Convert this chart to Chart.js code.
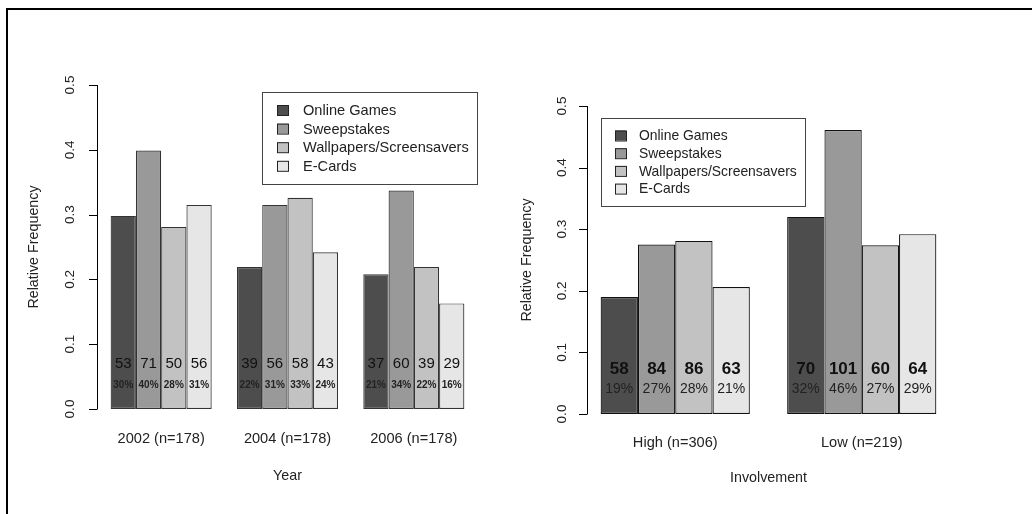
<!DOCTYPE html>
<html>
<head>
<meta charset="utf-8">
<script src="https://cdn.jsdelivr.net/npm/chart.js@4.4.1/dist/chart.umd.min.js"></script>
<style>
body { margin: 0; background: #fff; }
#wrap { position: relative; width: 1032px; height: 514px; overflow: hidden; }
#frame { position: absolute; left: 6px; top: 8px; width: 1040px; height: 520px; border-top: 2px solid #000; border-left: 2px solid #000; }
canvas { position: absolute; left: 0; top: 0; }
</style>
</head>
<body>
<div id="wrap">
  <div id="frame"></div>
  <canvas id="yearChart" width="1032" height="514"></canvas>
  <canvas id="involveChart" width="1032" height="514"></canvas>
</div>
<script>
// series shared by both panels
const seriesNames = ['Online Games', 'Sweepstakes', 'Wallpapers/Screensavers', 'E-Cards'];
const seriesColors = ['#4d4d4d', '#999999', '#c2c2c2', '#e6e6e6'];
const yTicks = [0, 0.1, 0.2, 0.3, 0.4, 0.5];
const yTickLabels = ['0.0', '0.1', '0.2', '0.3', '0.4', '0.5'];

// left panel: by year
const yearLabels = ['2002 (n=178)', '2004 (n=178)', '2006 (n=178)'];
const yearOnline = [0.298, 0.219, 0.208];
const yearSweep = [0.399, 0.315, 0.337];
const yearWall = [0.281, 0.326, 0.219];
const yearCards = [0.315, 0.242, 0.163];
const yearOnlineN = [53, 39, 37];
const yearSweepN = [71, 56, 60];
const yearWallN = [50, 58, 39];
const yearCardsN = [56, 43, 29];
const yearOnlinePct = ['30%', '22%', '21%'];
const yearSweepPct = ['40%', '31%', '34%'];
const yearWallPct = ['28%', '33%', '22%'];
const yearCardsPct = ['31%', '24%', '16%'];

// right panel: by involvement
const invLabels = ['High (n=306)', 'Low (n=219)'];
const invOnline = [0.190, 0.320];
const invSweep = [0.275, 0.461];
const invWall = [0.281, 0.274];
const invCards = [0.206, 0.292];
const invOnlineN = [58, 70];
const invSweepN = [84, 101];
const invWallN = [86, 60];
const invCardsN = [63, 64];
const invOnlinePct = ['19%', '32%'];
const invSweepPct = ['27%', '46%'];
const invWallPct = ['28%', '27%'];
const invCardsPct = ['21%', '29%'];

const FONT = "'Liberation Sans', Arial, sans-serif";

// draws the R-style axis, labels inside bars and the legend box
const rDeco = {
    id: 'rdeco',
    afterDatasetsDraw(chart, args, o) {
        const ctx = chart.ctx;
        const ys = chart.scales.y;
        const xs = chart.scales.x;
        const area = chart.chartArea;
        ctx.save();

        // y axis
        const ax = area.left + o.axisShift;
        ctx.strokeStyle = '#000';
        ctx.lineWidth = 1;
        ctx.beginPath();
        ctx.moveTo(ax + 0.5, ys.getPixelForValue(0));
        ctx.lineTo(ax + 0.5, ys.getPixelForValue(0.5));
        yTicks.forEach(v => {
            const py = Math.round(ys.getPixelForValue(v)) + 0.5;
            ctx.moveTo(ax + 0.5, py);
            ctx.lineTo(ax - 8, py);
        });
        ctx.stroke();

        ctx.fillStyle = '#222';
        ctx.font = '13.5px ' + FONT;
        ctx.textAlign = 'center';
        ctx.textBaseline = 'middle';
        yTicks.forEach((v, i) => {
            ctx.save();
            ctx.translate(o.tickLabelX, ys.getPixelForValue(v));
            ctx.rotate(-Math.PI / 2);
            ctx.fillText(yTickLabels[i], 0, 0);
            ctx.restore();
        });

        ctx.font = '14.3px ' + FONT;
        ctx.save();
        ctx.translate(o.yTitleX, (ys.getPixelForValue(0) + ys.getPixelForValue(0.5)) / 2);
        ctx.rotate(-Math.PI / 2);
        ctx.fillText('Relative Frequency', 0, 0);
        ctx.restore();

        // category labels and x title
        ctx.font = '14.6px ' + FONT;
        chart.data.labels.forEach((lab, i) => {
            ctx.fillText(lab, xs.getPixelForValue(i), o.catY);
        });
        ctx.font = '14.3px ' + FONT;
        ctx.fillText(o.xTitle, (area.left + area.right) / 2, o.xTitleY);

        // counts and percentages inside bars
        chart.data.datasets.forEach((ds, di) => {
            chart.getDatasetMeta(di).data.forEach((bar, i) => {
                ctx.fillStyle = '#111';
                ctx.font = o.countFont;
                ctx.fillText(String(ds.counts[i]), bar.x, ys.getPixelForValue(o.countAt));
                ctx.fillStyle = '#222';
                ctx.font = o.pctFont;
                ctx.fillText(ds.pcts[i], bar.x, ys.getPixelForValue(o.pctAt));
            });
        });

        // legend
        const lg = o.legend;
        ctx.strokeStyle = '#444';
        ctx.strokeRect(lg.x + 0.5, lg.y + 0.5, lg.w, lg.h);
        ctx.font = lg.font + ' ' + FONT;
        ctx.textAlign = 'left';
        chart.data.datasets.forEach((ds, di) => {
            const ry = lg.y + lg.first + di * lg.step;
            ctx.fillStyle = ds.backgroundColor;
            ctx.fillRect(lg.x + lg.sw, ry - 5, 11, 10);
            ctx.strokeStyle = '#222';
            ctx.strokeRect(lg.x + lg.sw + 0.5, ry - 4.5, 11, 10);
            ctx.fillStyle = '#222';
            ctx.fillText(ds.label, lg.x + lg.tx, ry + 1);
        });
        ctx.restore();
    }
};

function makeDatasets(values, counts, pcts, border) {
    return seriesNames.map((name, i) => ({
        label: name,
        data: values[i],
        counts: counts[i],
        pcts: pcts[i],
        backgroundColor: seriesColors[i],
        borderColor: border,
        borderWidth: 1.2,
        borderSkipped: false,
        categoryPercentage: 0.8,
        barPercentage: 1.0
    }));
}

function baseOptions(pad, deco) {
    return {
        responsive: false,
        animation: false,
        layout: { padding: pad },
        plugins: {
            legend: { display: false },
            tooltip: { enabled: false },
            rdeco: deco
        },
        scales: {
            x: { display: false },
            y: { display: false, min: 0, max: 0.5 }
        }
    };
}

new Chart(document.getElementById('yearChart'), {
    type: 'bar',
    data: {
        labels: yearLabels,
        datasets: makeDatasets(
            [yearOnline, yearSweep, yearWall, yearCards],
            [yearOnlineN, yearSweepN, yearWallN, yearCardsN],
            [yearOnlinePct, yearSweepPct, yearWallPct, yearCardsPct],
            '#333'
        )
    },
    options: baseOptions(
        { left: 98, right: 555, top: 85, bottom: 105 },
        {
            axisShift: -1, tickLabelX: 70, yTitleX: 34,
            catY: 439, xTitle: 'Year', xTitleY: 476,
            countFont: '15px ' + FONT, countAt: 0.069,
            pctFont: 'bold 10px ' + FONT, pctAt: 0.037,
            legend: { x: 262, y: 92, w: 215, h: 92, first: 18, step: 18.6, sw: 15, tx: 41, font: '14.6px' }
        }
    ),
    plugins: [rDeco]
});

new Chart(document.getElementById('involveChart'), {
    type: 'bar',
    data: {
        labels: invLabels,
        datasets: makeDatasets(
            [invOnline, invSweep, invWall, invCards],
            [invOnlineN, invSweepN, invWallN, invCardsN],
            [invOnlinePct, invSweepPct, invWallPct, invCardsPct],
            '#111'
        )
    },
    options: baseOptions(
        { left: 582, right: 77, top: 106, bottom: 100 },
        {
            axisShift: 5, tickLabelX: 562, yTitleX: 527,
            catY: 443, xTitle: 'Involvement', xTitleY: 478,
            countFont: 'bold 17px ' + FONT, countAt: 0.072,
            pctFont: '14px ' + FONT, pctAt: 0.041,
            legend: { x: 601, y: 118, w: 204, h: 88, first: 17.5, step: 17.7, sw: 14, tx: 38, font: '13.9px' }
        }
    ),
    plugins: [rDeco]
});
</script>
</body>
</html>
